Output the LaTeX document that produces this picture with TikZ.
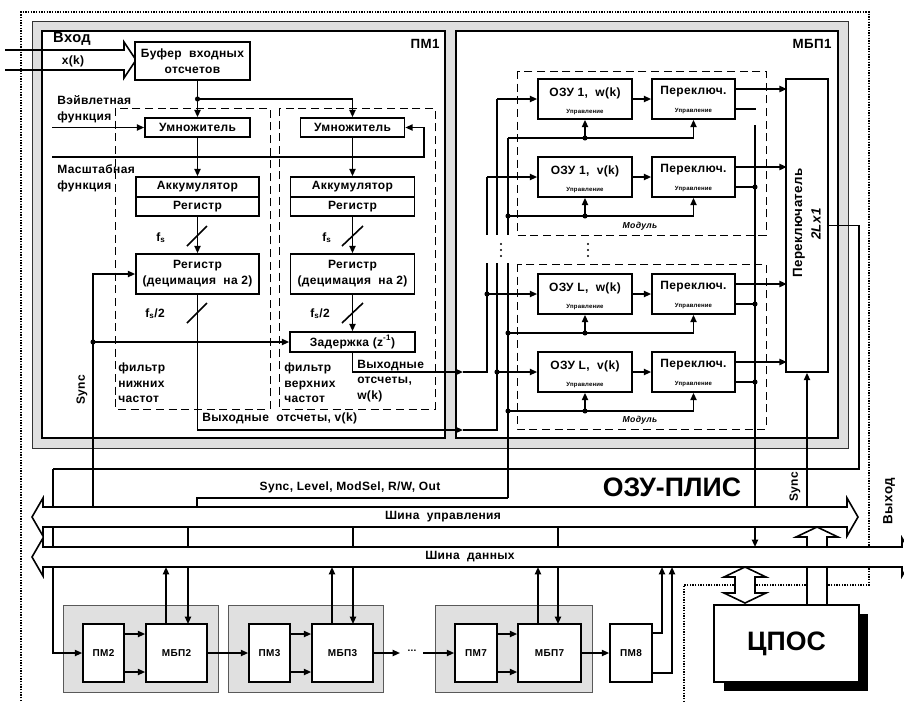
\documentclass[tikz,border=0pt]{standalone}
\usepackage{fontspec}
\setmainfont{Liberation Sans}
\newfontfamily\lsans[LetterSpace=3]{Liberation Sans}
\usetikzlibrary{arrows.meta,calc}
\begin{document}
\begin{tikzpicture}[x=0.75pt,y=-0.75pt,
  ln/.style={line width=1.2pt},
  arr/.style={ln,-{Triangle[length=5.5pt,width=4.6pt]}},
  box/.style={draw,line width=1.2pt,fill=white,inner sep=0pt},
  sz/.style 2 args={minimum width=#1*0.75pt,minimum height=#2*0.75pt},
  t/.style={inner sep=0pt,font=\lsans\bfseries\fontsize{9}{12}\selectfont},
  tm/.style={inner sep=0pt,font=\lsans\bfseries\fontsize{7.5}{9}\selectfont},
  tl/.style={inner sep=0pt,font=\lsans\bfseries\fontsize{10}{12}\selectfont},
  ts/.style={inner sep=0pt,font=\lsans\bfseries\fontsize{4.5}{5}\selectfont},
  ti/.style={inner sep=0pt,font=\lsans\bfseries\itshape\fontsize{6.5}{7}\selectfont},
  tb/.style={inner sep=0pt,font=\bfseries\fontsize{20}{22}\selectfont},
  dot/.style={circle,fill,inner sep=0pt,minimum size=3.8pt},
  sdot/.style={circle,fill,inner sep=0pt,minimum size=1.8pt},
  dsh/.style={line width=0.6pt,dash pattern=on 6pt off 3.5pt},
  grey/.style={fill=black!12,draw=black!65,line width=0.6pt}]
\clip (0,0) rectangle (904,701);
\fill[white] (0,0) rectangle (904,701);

% dotted outer border
\draw[line width=1.1pt,dash pattern=on 1.1pt off 0.9pt] (21,701) -- (21,12) -- (869,12) -- (869,585) -- (684,585) -- (684,701);

% grey frame and the two blocks
\filldraw[grey,draw=black!80] (32,21) rectangle (848,448);
\draw[box] (42,31) rectangle (445,438);
\draw[box] (456,31) rectangle (838,438);
\node[tl] (pm1l) at (425,44) {ПМ1};
\node[tl] (mbp1l) at (812,44) {МБП1};

% input arrow
\draw[ln] (5,50) -- (124,50) -- (124,42) -- (136,60) -- (124,78) -- (124,70) -- (5,70);
\node[tl,font=\lsans\bfseries\fontsize{11}{12}\selectfont] (vhod) at (72,39) {Вход};
\node[t] (xk) at (73,61) {x(k)};

% dashed filter areas
\draw[dsh] (115,108) rectangle (270,409);
\draw[dsh] (279,108) rectangle (435,409);

% PM1 blocks
\node[box,sz={115}{38},t,align=center] (buf) at (192.5,61) {Буфер\ \ входных\\отсчетов};
\node[box,sz={105}{19},t] (um1) at (197.5,127.5) {Умножитель};
\node[box,sz={104}{19},t] (um2) at (352.5,127.5) {Умножитель};
\node[box,sz={123}{20},t] (acc1) at (197.5,187) {Аккумулятор};
\node[box,sz={123}{19},t] (reg1) at (197.5,206.5) {Регистр};
\node[box,sz={124}{20},t] (acc2) at (352.5,187) {Аккумулятор};
\node[box,sz={124}{19},t] (reg2) at (352.5,206.5) {Регистр};
\node[box,sz={123}{40},t,align=center] (dec1) at (197.5,274) {Регистр\\(децимация\ \ на 2)};
\node[box,sz={124}{40},t,align=center] (dec2) at (352.5,274) {Регистр\\(децимация\ \ на 2)};
\node[box,sz={125}{20},t] (del) at (352.5,342) {Задержка (z\textsuperscript{-1})};

% PM1 texts
\node[t,anchor=west] (wf1) at (57,100) {Вэйвлетная};
\node[t,anchor=west] (wf2) at (57,117) {функция};
\node[t,anchor=west] (sf1) at (57,169) {Масштабная};
\node[t,anchor=west] (sf2) at (57,186) {функция};
\node[t] (fs1) at (161,238) {f\textsubscript{s}};
\node[t] (fs2) at (327,238) {f\textsubscript{s}};
\node[t] (fs3) at (155,314) {f\textsubscript{s}/2};
\node[t] (fs4) at (320,314) {f\textsubscript{s}/2};
\node[t,anchor=west,align=left,font=\lsans\bfseries\fontsize{9}{11.5}\selectfont] (lpf) at (118,383) {фильтр\\нижних\\частот};
\node[t,anchor=west,align=left,font=\lsans\bfseries\fontsize{9}{11.5}\selectfont] (hpf) at (284,383) {фильтр\\верхних\\частот};
\node[t,anchor=west,align=left,font=\lsans\bfseries\fontsize{9}{11.5}\selectfont] (wout) at (357,381) {Выходные\\отсчеты,\\w(k)};
\node[t,anchor=west] (vout) at (202,418) {Выходные\ \ отсчеты, v(k)};
\node[t,rotate=90] (sync1) at (82,390) {Sync};

% PM1 connectors
\coordinate (d1) at (197.5,99);
\draw[arr] (buf.south -| um1.north) -- (um1.north);
\draw[arr] (d1) -| (um2.north);
\node[dot] (d1n) at (d1) {};
\coordinate (wfin) at (52,127.5);
\draw[arr] (wfin) -- (um1.west);
\coordinate (sfin) at (52,157);
\coordinate (sfr) at (424,157);
\draw[arr] (sfin) -- (sfr) |- (um2.east);
\draw[arr] (um1) -- (acc1);
\draw[arr] (um2) -- (acc2);
\draw[arr] (reg1) -- (dec1);
\draw[arr] (reg2) -- (dec2);
\draw[arr] (dec2) -- (del);
\draw[ln] (187,246) -- (207,226);
\draw[ln] (342,246) -- (363,226);
\draw[ln] (187,323) -- (207,303);
\draw[ln] (342,323) -- (363,303);
\coordinate (syncb) at (93,507);
\coordinate (syd) at (93,342);
\draw[arr] (syncb) |- (dec1.west);
\draw[arr] (syd) -- (del.west);
\node[dot] (sydn) at (syd) {};
\coordinate (vin) at (463,430);
\coordinate (win) at (463,372);
\draw[arr] (dec1.south) |- (vin);
\draw[arr] (del.south) |- (win);

% MBP1
\draw[dsh] (517,71) rectangle (766,235);
\draw[dsh] (517,264) rectangle (766,429);
\node[ti] (mod1) at (640,226) {Модуль};
\node[ti] (mod2) at (640,420) {Модуль};
\node[box,sz={42}{293}] (sw) at (807,225.5) {};
\node[tl,rotate=90] (swt1) at (799,223) {Переключатель};
\node[tl,rotate=90,font=\lsans\bfseries\itshape\fontsize{10}{12}\selectfont] (swt2) at (816,224) {2Lx1};

\foreach \n/\y/\lab in {1/99/{ОЗУ 1,\ \ w(k)},2/177/{ОЗУ 1,\ \ v(k)},3/294/{ОЗУ L,\ \ w(k)},4/372/{ОЗУ L,\ \ v(k)}}{
  \node[box,sz={94}{40}] (o\n) at (585,\y) {};
  \node[t] (ot\n) at (585,\y-6) {\lab};
  \node[ts] (ou\n) at (585,\y+13) {Управление};
  \node[box,sz={83}{40}] (p\n) at (693.5,\y) {};
  \node[t] (pt\n) at (693.5,\y-7) {Переключ.};
  \node[ts] (pu\n) at (693.5,\y+12) {Управление};
  \draw[arr] (o\n.east) -- (p\n.west);
  \coordinate (c\n) at (585,\y+39);
  \coordinate (cl\n) at (508,\y+39);
  \draw[arr] (cl\n) -- (c\n) -- (o\n.south);
  \draw[arr] (c\n) -| (p\n.south);
  \node[dot] (cd\n) at (c\n) {};
  \draw[arr] ($(p\n.east)+(0,-10)$) -- ($(p\n.east)+(51,-10)$);
  \draw[ln] ($(p\n.east)+(0,10)$) -- ($(p\n.east)+(20,10)$);
}
\node[dot] (lo2) at (755,187) {};
\node[dot] (lo3) at (755,304) {};
\node[dot] (lo4) at (755,382) {};
\node[dot] (cl2n) at (cl2) {};
\node[dot] (cl3n) at (cl3) {};
\node[dot] (cl4n) at (cl4) {};

% MBP1 input lines
\coordinate (i1) at (497,99);
\coordinate (i2) at (487,177);
\coordinate (i3) at (487,294);
\coordinate (i4) at (497,372);
\draw[arr] (i1) -- (o1.west);
\draw[arr] (i2) -- (o2.west);
\draw[arr] (i3) -- (o3.west);
\draw[arr] (i4) -- (o4.west);
\draw[ln] (i1) -- (497,235) (497,263) -- (497,430) -- (vin);
\draw[ln] (i2) -- (487,235) (487,263) -- (487,372) -- (win);
\draw[ln] (cl1) -- (508,235) (508,263) -- (508,498);
\node[dot] (i3n) at (i3) {};
\node[dot] (i4n) at (i4) {};
\foreach \xx in {501,588}{
  \node[sdot] (va\xx) at (\xx,244) {};
  \node[sdot] (vb\xx) at (\xx,250) {};
  \node[sdot] (vc\xx) at (\xx,256) {};
}

% output of MBP1 to data bus
\coordinate (dbt) at (755,547);
\draw[arr] (755,125) -- (dbt);

% switch output to PM2
\coordinate (so1) at (859,225.5);
\coordinate (so2) at (859,469);
\coordinate (so3) at (53,469);
\draw[ln] (sw.east) -- (so1) -- (so2) -- (so3);

% control lines
\coordinate (ct1) at (197,507);
\coordinate (ct2) at (197,498);
\draw[ln] (ct1) -- (ct2) -- (508,498);
\draw[arr] (807,507) -- (sw.south);
\node[t] (sllab) at (350,487) {Sync, Level, ModSel, R/W, Out};
\node[tb] (plis) at (672,487) {ОЗУ-ПЛИС};
\node[t,rotate=90] (sync2) at (795,487) {Sync};
\node[tl,rotate=90] (vyh) at (889,501) {Выход};

% bottom row
\filldraw[grey] (63,605) rectangle (218,692);
\filldraw[grey] (228,605) rectangle (383,692);
\filldraw[grey] (435,605) rectangle (592,692);
\node[box,sz={41}{58},tm] (pm2) at (103.5,653) {ПМ2};
\node[box,sz={61}{58},tm] (mb2) at (176.5,653) {МБП2};
\node[box,sz={41}{58},tm] (pm3) at (269.5,653) {ПМ3};
\node[box,sz={61}{58},tm] (mb3) at (342.5,653) {МБП3};
\node[box,sz={42}{58},tm] (pm7) at (476,653) {ПМ7};
\node[box,sz={63}{58},tm] (mb7) at (549.5,653) {МБП7};
\node[box,sz={42}{58},tm] (pm8) at (631,653) {ПМ8};
\node[tm] (dots) at (412,651) {...};
\draw[arr] (so3) |- (pm2.west);
\foreach \a/\b in {pm2/mb2,pm3/mb3,pm7/mb7}{
  \draw[arr] ($(\a.east)+(0,-19)$) -- ($(\b.west)+(0,-19)$);
  \draw[arr] ($(\a.east)+(0,19)$) -- ($(\b.west)+(0,19)$);
}
\draw[arr] (mb2) -- (pm3);
\coordinate (dl) at (400,653);
\coordinate (dr) at (423,653);
\draw[arr] (mb3.east) -- (dl);
\draw[arr] (dr) -- (pm7.west);
\draw[arr] (mb7) -- (pm8);
\foreach \n/\u/\d in {mb2/166/188,mb3/332/353,mb7/538/558}{
  \draw[arr] (\u,624) -- (\u,567);
  \draw[arr] (\d,527) -- (\d,624);
}
\draw[arr] ($(pm8.east)+(0,-20)$) -| (662,567);
\draw[arr] ($(pm8.east)+(0,20)$) -| (672,567);

% DSP
\fill (724,614) rectangle (868,691);
\node[box,sz={145}{77},tb] (dsp) at (786.5,643.5) {ЦПОС};
% hollow up arrow DSP -> control bus
\draw[ln,fill=white] (817,527) -- (838,537) -- (827,537) -- (827,605) -- (807,605) -- (807,537) -- (796,537) -- cycle;

% buses
\draw[ln,fill=white] (32,517) -- (43,498) -- (43,507) -- (847,507) -- (847,498) -- (858,517) -- (847,536) -- (847,527) -- (43,527) -- (43,536) -- cycle;
\draw[ln,fill=white] (32,557) -- (43,538) -- (43,547) -- (902,547) -- (902,538) -- (913,557) -- (902,576) -- (902,567) -- (43,567) -- (43,576) -- cycle;
\node[t] (cbus) at (443,517) {Шина\ \ управления};
\node[t] (dbus) at (470,557) {Шина\ \ данных};
% hollow double arrow data bus <-> DSP
\draw[ln,fill=white] (745,567) -- (766,577) -- (755,577) -- (755,593) -- (766,593) -- (745,603) -- (724,593) -- (735,593) -- (735,577) -- (724,577) -- cycle;
\end{tikzpicture}
\end{document}
